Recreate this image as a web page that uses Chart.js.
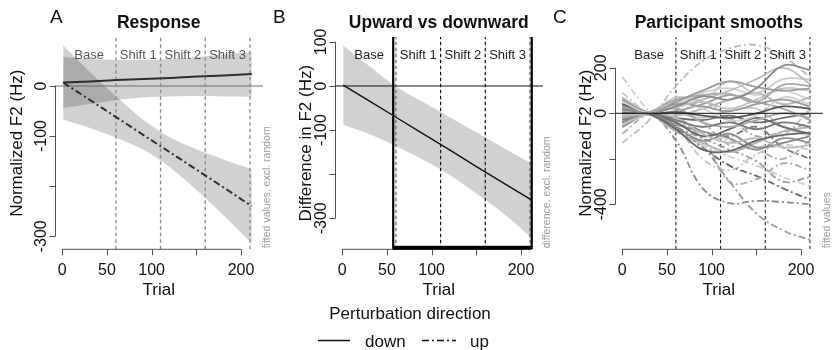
<!DOCTYPE html>
<html>
<head>
<meta charset="utf-8">
<script src="https://cdn.jsdelivr.net/npm/chart.js@4.4.1/dist/chart.umd.min.js"></script>
<style>
  html, body { margin: 0; padding: 0; background: #ffffff; }
  #wrap { position: relative; width: 832px; height: 350px; overflow: hidden; }
  #wrap canvas { position: absolute; left: 0; top: 0; }
</style>
</head>
<body>
<div id="wrap">
  <canvas id="panelA" width="832" height="350"></canvas>
  <canvas id="panelB" width="832" height="350"></canvas>
  <canvas id="panelC" width="832" height="350"></canvas>
</div>
<script>
// ---- experiment phases ----
const phaseBounds = [60, 110, 160, 210];
const phaseNames = ['Base', 'Shift 1', 'Shift 2', 'Shift 3'];
const phaseCentres = [30, 85, 135, 185];

// ---- model fits (panel A, B) ----
const trials = [1, 31, 61, 91, 121, 151, 181, 212];
const downFit   = [7, 9, 12, 14, 16, 19, 21, 24];
const downUpper = [58, 54, 52, 52, 54, 58, 63, 68];
const downLower = [-44, -36, -28, -23, -21, -20, -21, -22];
const upFit   = [7, -28, -63, -98, -133, -168, -203, -240];
const upUpper = [81, 28, -22, -68, -103, -127, -147, -166];
const upLower = [-67, -84, -104, -128, -163, -209, -259, -314];
const diffFit   = [2, -35, -72, -109, -146, -184, -221, -259];
const diffUpper = [92, 44, -3, -37, -72, -106, -141, -176];
const diffLower = [-88, -110, -137, -168, -203, -245, -290, -344];
const sigRange = [57, 212];

// ---- participant smooths (panel C) ----
const trialsC = [0, 30, 60, 90, 120, 150, 180, 210];
const downSmooths = [
  [20, 0, 30, 75, 60, 110, 210, 190],
  [-10, 0, 25, 60, 100, 150, 200, 130],
  [30, 0, 50, 100, 140, 115, 100, 110],
  [-20, 5, 60, 80, 85, 50, 125, 120],
  [50, 5, 70, 60, 140, 90, 150, 150],
  [40, 0, 5, -10, -20, 0, 30, 20],
  [0, -5, -70, -160, -165, -120, -95, -85],
  [-30, 0, -30, -60, -40, -70, -40, -60],
  [60, 5, 40, 30, 10, 40, 60, 30],
  [-50, -5, -20, -90, -130, -110, -150, -140],
  [25, 0, 50, 20, -30, -10, 70, 40],
  [-40, 0, -60, -120, -90, -150, -130, -100],
  [10, 0, 20, -40, -60, -30, 0, -20],
  [-15, 0, -10, 20, 60, 90, 40, 70],
  [15, 0, -40, -100, -70, -20, -60, -90],
  [70, 5, 30, 50, 20, 60, 110, 100],
  [-60, -5, -50, -80, -110, -160, -110, -130],
  [35, 0, 10, 40, 80, 50, 20, -30],
  [-5, 0, 40, 90, 110, 80, 100, 60],
  [5, 0, -20, -30, -10, -40, -20, 0],
  [-25, 0, -80, -130, -170, -130, -80, -60],
  [45, 0, 0, -20, 10, 20, -60, -100]
];
const upSmooths = [
  [-130, -30, 120, 230, 285, 300, 250, 160],
  [160, 10, -80, -140, -190, -230, -280, -320],
  [-20, 0, -70, -150, -300, -440, -515, -556],
  [-10, 0, -120, -330, -395, -385, -390, -400],
  [20, 0, -40, -110, -300, -290, -220, -250],
  [0, 0, -60, -150, -230, -275, -330, -380],
  [-40, 0, -60, -110, -160, -210, -300, -280],
  [90, 0, -30, -90, -120, -150, -100, 20],
  [-90, 0, 20, -40, -140, -160, -200, -120],
  [30, 0, -20, -80, -100, -60, -150, -200],
  [60, 0, -60, -200, -250, -180, -140, -160],
  [-60, 5, 0, 50, -20, -100, -80, -40]
];

// ---- axis ticks ----
const xTicks = [0, 50, 100, 150, 200];
const xTickLabels = ['0', '50', '100', '', '200'];
const yTicksA = [0, -100, -200, -300];
const yTickLabelsA = ['0', '-100', '', '-300'];
const yTicksB = [100, 0, -100, -200, -300];
const yTickLabelsB = ['100', '0', '-100', '', '-300'];
const yTicksC = [200, 0, -200, -400];
const yTickLabelsC = ['200', '0', '', '-400'];

// ---- styling ----
const FONT = '"Liberation Sans", Arial, Helvetica, sans-serif';
const downShades = ['#8a8a8a', '#bdbdbd', '#9a9a9a', '#a8a8a8', '#cacaca', '#555555', '#666666', '#7a7a7a',
  '#999999', '#bbbbbb', '#cfcfcf', '#888888', '#aaaaaa', '#b5b5b5', '#6a6a6a', '#c2c2c2', '#909090',
  '#a0a0a0', '#d2d2d2', '#707070', '#b0b0b0', '#c6c6c6'];
const upShades = ['#bcbcbc', '#cccccc', '#9a9a9a', '#8c8c8c', '#aaaaaa', '#6a6a6a', '#999999', '#c4c4c4',
  '#b0b0b0', '#7a7a7a', '#c8c8c8', '#a6a6a6'];
const DOTDASH = [7, 3, 2, 3];
const BAND = 'rgba(0,0,0,0.18)';

function pts(xs, ys) { return ys.map((y, i) => ({ x: xs[i], y: y })); }

function lineSet(data, color, width, dash, order, extra) {
  return Object.assign({
    data: data, borderColor: color, borderWidth: width, borderDash: dash || [],
    pointRadius: 0, tension: 0, fill: false, order: order
  }, extra || {});
}

function bandSets(xs, upper, lower, firstIndex) {
  return [
    lineSet(pts(xs, upper), 'rgba(0,0,0,0)', 0, [], 10, { tension: 0.35 }),
    lineSet(pts(xs, lower), 'rgba(0,0,0,0)', 0, [], 10,
      { tension: 0.35, fill: { target: firstIndex }, backgroundColor: BAND })
  ];
}

function vlineSets(yMin, yMax, colors, width, dash) {
  return phaseBounds.map((b, i) =>
    lineSet([{ x: b, y: yMin }, { x: b, y: yMax }], colors[i], width, dash, 5));
}

// Axes, titles and annotations drawn in base-R style on top of the plot
function decor(cfg) {
  return {
    id: 'decor' + cfg.key,
    afterDraw(chart) {
      const ctx = chart.ctx, ca = chart.chartArea;
      const xs = chart.scales.x, ys = chart.scales.y;
      ctx.save();

      // x axis
      ctx.strokeStyle = '#4d4d4d';
      ctx.lineWidth = 1;
      const yb = ca.bottom;
      ctx.beginPath();
      ctx.moveTo(xs.getPixelForValue(xTicks[0]), yb);
      ctx.lineTo(xs.getPixelForValue(xTicks[xTicks.length - 1]), yb);
      xTicks.forEach(t => {
        const p = Math.round(xs.getPixelForValue(t)) + 0.5;
        ctx.moveTo(p, yb); ctx.lineTo(p, yb + 6);
      });
      ctx.stroke();
      ctx.fillStyle = '#111';
      ctx.font = '16px ' + FONT;
      ctx.textAlign = 'center';
      ctx.textBaseline = 'alphabetic';
      xTicks.forEach((t, i) => {
        if (xTickLabels[i]) ctx.fillText(xTickLabels[i], xs.getPixelForValue(t), 274.5);
      });
      ctx.font = '17px ' + FONT;
      ctx.fillText('Trial', (ca.left + ca.right) / 2, 295);

      // y axis
      const xl = Math.round(ca.left) + 0.5;
      ctx.beginPath();
      ctx.moveTo(xl, ys.getPixelForValue(cfg.yTicks[0]));
      ctx.lineTo(xl, ys.getPixelForValue(cfg.yTicks[cfg.yTicks.length - 1]));
      cfg.yTicks.forEach(t => {
        const p = Math.round(ys.getPixelForValue(t)) + 0.5;
        ctx.moveTo(xl, p); ctx.lineTo(xl - 6, p);
      });
      ctx.stroke();
      ctx.font = '16px ' + FONT;
      cfg.yTicks.forEach((t, i) => {
        if (!cfg.yLabels[i]) return;
        ctx.save();
        ctx.translate(ca.left - 8.5, ys.getPixelForValue(t));
        ctx.rotate(-Math.PI / 2);
        ctx.fillText(cfg.yLabels[i], 0, 0);
        ctx.restore();
      });
      ctx.save();
      ctx.font = '17px ' + FONT;
      ctx.translate(cfg.yTitleX, (ca.top + ca.bottom) / 2);
      ctx.rotate(-Math.PI / 2);
      ctx.fillText(cfg.yTitle, 0, 0);
      ctx.restore();

      // side note
      ctx.save();
      ctx.fillStyle = '#9a9a9a';
      ctx.font = '10.5px ' + FONT;
      ctx.textAlign = 'left';
      ctx.translate(ca.right + 6.5, ca.bottom - 1);
      ctx.rotate(-Math.PI / 2);
      ctx.fillText(cfg.note, 0, 0);
      ctx.restore();

      // phase labels
      ctx.fillStyle = cfg.phaseColor;
      ctx.font = '13px ' + FONT;
      ctx.textAlign = 'center';
      phaseNames.forEach((n, i) => ctx.fillText(n, xs.getPixelForValue(phaseCentres[i]), 58.5));

      // title and panel letter
      ctx.fillStyle = '#111';
      ctx.font = 'bold 17.5px ' + FONT;
      ctx.fillText(cfg.title, (ca.left + ca.right) / 2, 27.5);
      ctx.font = '19px ' + FONT;
      ctx.textAlign = 'left';
      ctx.fillText(cfg.letter, cfg.letterX, 22.5);

      // significance bar
      if (cfg.sigBar) {
        ctx.fillStyle = '#000';
        const a = xs.getPixelForValue(sigRange[0]), b = xs.getPixelForValue(sigRange[1]);
        ctx.fillRect(a, ca.bottom - 3.5, b - a, 4);
      }

      // shared legend
      if (cfg.legend) {
        ctx.fillStyle = '#111';
        ctx.font = '17px ' + FONT;
        ctx.textAlign = 'center';
        ctx.fillText('Perturbation direction', 410, 319);
        ctx.textAlign = 'left';
        ctx.fillText('down', 365, 346.5);
        ctx.fillText('up', 470, 346.5);
        ctx.strokeStyle = '#111';
        ctx.lineWidth = 1.5;
        ctx.beginPath(); ctx.moveTo(318, 340.5); ctx.lineTo(350, 340.5); ctx.stroke();
        ctx.setLineDash(DOTDASH);
        ctx.beginPath(); ctx.moveTo(422, 340.5); ctx.lineTo(456, 340.5); ctx.stroke();
        ctx.setLineDash([]);
      }
      ctx.restore();
    }
  };
}

function baseOptions(pad, xr, yr) {
  return {
    responsive: false,
    animation: false,
    devicePixelRatio: 1,
    events: [],
    layout: { padding: pad },
    plugins: { legend: { display: false }, tooltip: { enabled: false }, title: { display: false } },
    scales: {
      x: { type: 'linear', display: false, min: xr[0], max: xr[1] },
      y: { type: 'linear', display: false, min: yr[0], max: yr[1] }
    }
  };
}

const X_RANGE = [-8.7, 224.6];

// ---- Panel A: response ----
(function () {
  const yr = [-326, 97.8];
  const datasets = [];
  datasets.push(...bandSets(trials, upUpper, upLower, 0));
  datasets.push(...bandSets(trials, downUpper, downLower, 2));
  datasets.push(lineSet([{ x: X_RANGE[0], y: 0 }, { x: X_RANGE[1], y: 0 }], '#6e6e6e', 1.2, [], 6));
  datasets.push(...vlineSets(yr[0], yr[1], ['#8c8c8c', '#8c8c8c', '#8c8c8c', '#8c8c8c'], 1.4, [3.5, 3]));
  datasets.push(lineSet(pts(trials, downFit), '#2e2e2e', 2, [], 1));
  datasets.push(lineSet(pts(trials, upFit), '#2e2e2e', 2, DOTDASH, 1));
  new Chart(document.getElementById('panelA'), {
    type: 'line',
    data: { datasets: datasets },
    options: baseOptions({ left: 54.5, right: 569, top: 37, bottom: 100.7 }, X_RANGE, yr),
    plugins: [decor({
      key: 'A', yTicks: yTicksA, yLabels: yTickLabelsA, yTitle: 'Normalized F2 (Hz)', yTitleX: 22,
      note: 'fitted values, excl. random', phaseColor: '#555', title: 'Response', letter: 'A', letterX: 50
    })]
  });
})();

// ---- Panel B: difference between directions ----
(function () {
  const yr = [-370.3, 111.1];
  const datasets = [];
  datasets.push(...bandSets(trials, diffUpper, diffLower, 0));
  datasets.push(lineSet([{ x: X_RANGE[0], y: 0 }, { x: X_RANGE[1], y: 0 }], '#111', 1, [], 6));
  datasets.push(...vlineSets(yr[0], yr[1], ['#666', '#111', '#111', '#666'], 1.2, [3.5, 2.5]));
  sigRange.forEach(s => datasets.push(lineSet([{ x: s, y: yr[0] }, { x: s, y: yr[1] }], '#000', 2.2, [], 4)));
  datasets.push(lineSet(pts(trials, diffFit), '#111', 1.4, [], 1));
  new Chart(document.getElementById('panelB'), {
    type: 'line',
    data: { datasets: datasets },
    options: baseOptions({ left: 334.5, right: 289, top: 37, bottom: 100.7 }, X_RANGE, yr),
    plugins: [decor({
      key: 'B', yTicks: yTicksB, yLabels: yTickLabelsB, yTitle: 'Difference in F2 (Hz)', yTitleX: 310.5,
      note: 'difference, excl. random', phaseColor: '#222', title: 'Upward vs downward', letter: 'B',
      letterX: 273, sigBar: true, legend: true
    })]
  });
})();

// ---- Panel C: per-participant smooths ----
(function () {
  const yr = [-597.8, 335.4];
  const datasets = [];
  datasets.push(lineSet([{ x: X_RANGE[0], y: 0 }, { x: X_RANGE[1], y: 0 }], '#111', 1, [], 1));
  datasets.push(...vlineSets(yr[0], yr[1], ['#111', '#111', '#111', '#111'], 1, [3.5, 2.5]));
  upSmooths.forEach((s, i) =>
    datasets.push(lineSet(pts(trialsC, s), upShades[i], 1.8, DOTDASH, 3, { tension: 0.4 })));
  downSmooths.forEach((s, i) =>
    datasets.push(lineSet(pts(trialsC, s), downShades[i], 1.8, [], 2, { tension: 0.4 })));
  new Chart(document.getElementById('panelC'), {
    type: 'line',
    data: { datasets: datasets },
    options: baseOptions({ left: 614.5, right: 9, top: 37, bottom: 100.7 }, X_RANGE, yr),
    plugins: [decor({
      key: 'C', yTicks: yTicksC, yLabels: yTickLabelsC, yTitle: 'Normalized F2 (Hz)', yTitleX: 590.5,
      note: 'fitted values', phaseColor: '#222', title: 'Participant smooths', letter: 'C', letterX: 553
    })]
  });
})();
</script>
</body>
</html>
